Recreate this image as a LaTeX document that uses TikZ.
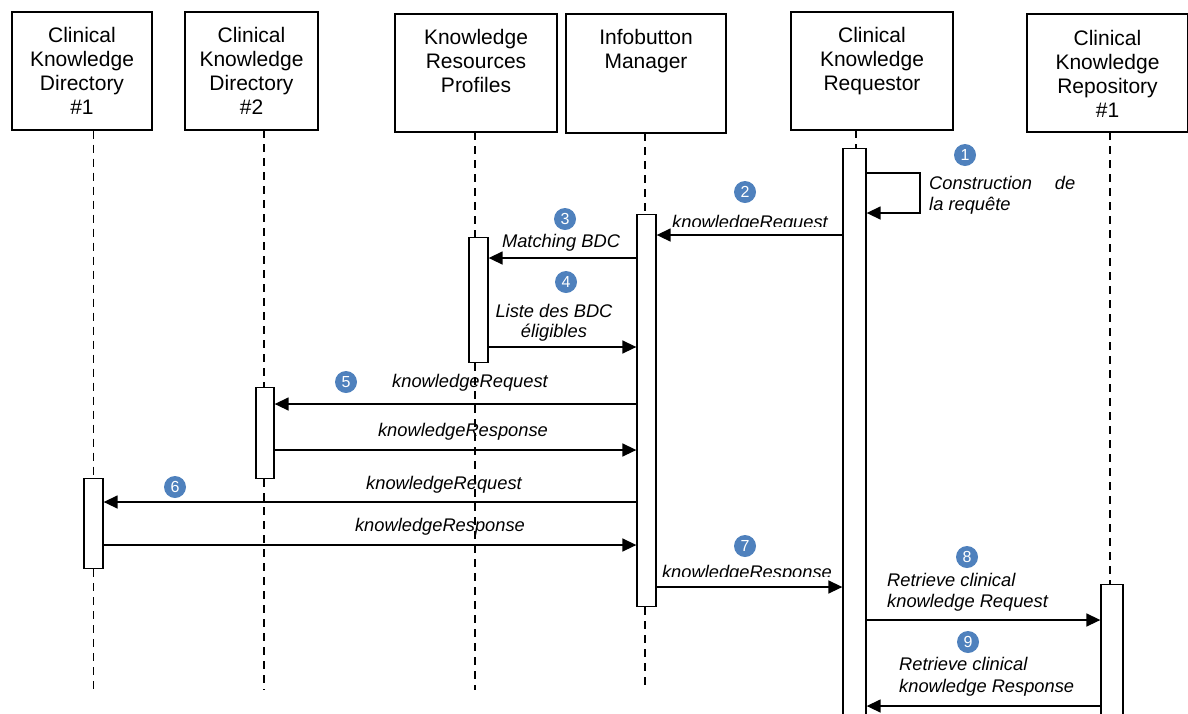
\documentclass[tikz,border=0pt]{standalone}
\usepackage{fontspec}
\setmainfont{Liberation Sans}
\usetikzlibrary{arrows.meta}
\definecolor{numblue}{HTML}{4F81BD}
\begin{document}
\begin{tikzpicture}[x=1pt,y=-1pt,
  headbox/.style={draw, line width=1.3pt, inner sep=0pt},
  headtext/.style={anchor=north, inner sep=0pt, align=center, font=\fontsize{21}{24}\selectfont},
  actbox/.style={draw, fill=white, line width=1.3pt, inner sep=0pt, anchor=north},
  life/.style={line width=1.6pt, dash pattern=on 8pt off 6pt},
  msg/.style={line width=1.5pt, -{Triangle[length=14pt,width=13pt]}},
  lbl/.style={inner sep=0pt, anchor=base, font=\fontsize{18.3}{21}\selectfont\itshape},
  lbll/.style={lbl, anchor=base west},
  num/.style={circle, fill=numblue, text=white, inner sep=0pt, minimum size=22pt, font=\fontsize{16}{16}\selectfont}
]
\useasboundingbox (0,0) rectangle (1188,713);

% header boxes
\node[headbox, minimum width=140pt, minimum height=118pt] (h1) at (82,71) {};
\node[headbox, minimum width=133pt, minimum height=118pt] (h2) at (251.5,71) {};
\node[headbox, minimum width=162pt, minimum height=118pt] (h3) at (476,73) {};
\node[headbox, minimum width=160pt, minimum height=119pt] (h4) at (646,73.5) {};
\node[headbox, minimum width=162pt, minimum height=118pt] (h5) at (872,71) {};
\node[headbox, minimum width=161pt, minimum height=118pt] (h6) at (1107.5,73) {};

\node[headtext] (t1) at ([yshift=-16pt]h1.north) {Clinical\\Knowledge\\Directory\\\#1};
\node[headtext] (t2) at ([yshift=-16pt]h2.north) {Clinical\\Knowledge\\Directory\\\#2};
\node[headtext] (t3) at ([yshift=-16pt]h3.north) {Knowledge\\Resources\\Profiles};
\node[headtext] (t4) at ([yshift=-16pt]h4.north) {Infobutton\\Manager};
\node[headtext] (t5) at ([yshift=-16pt]h5.north) {Clinical\\Knowledge\\Requestor};
\node[headtext] (t6) at ([yshift=-17pt]h6.north) {Clinical\\Knowledge\\Repository\\\#1};

% activation boxes
\node[actbox, minimum width=19pt, minimum height=90pt] (a1) at (93.5,478) {};
\node[actbox, minimum width=18pt, minimum height=91pt] (a2) at (265,387) {};
\node[actbox, minimum width=19pt, minimum height=125pt] (a3) at (478.5,237) {};
\node[actbox, minimum width=19pt, minimum height=392pt] (a4) at (646.5,214) {};
\node[actbox, minimum width=23pt, minimum height=580pt] (a5) at (854.5,148) {};
\node[actbox, minimum width=22pt, minimum height=150pt] (a6) at (1112,584) {};

% lifelines
\draw[life] (h1.south -| a1.north) -- (a1.north);
\draw[life] (a1.south) -- (a1.south |- 0,690);
\draw[life] (264,130) -- (a2.north -| 264,0);
\draw[life] (a2.south -| 264,0) -- (264,690);
\draw[life] (475,132) -- (a3.north -| 475,0);
\draw[life] (645,133) -- (a4.north -| 645,0);
\draw[life] (a4.south -| 645,0) -- (645,690);
\draw[life] (856,130) -- (a5.north -| 856,0);
\draw[life] (1110,132) -- (a6.north -| 1110,0);

% 1 self message
\draw[msg] (a5.east |- 0,173) -- (920,173) -- (920,213) -- (a5.east |- 0,213);
\node[num] (n1) at (965,155) {1};
\node[lbll] (l1a) at (929,189) {Construction\hspace{23pt}de};
\node[lbll] (l1b) at (929,210) {la requête};

% 2
\node[num] (n2) at (745,192) {2};
\begin{scope}
\clip (600,190) rectangle (840,226.5);
\node[lbl] (l2) at (750,228) {knowledgeRequest};
\end{scope}
\draw[msg] (a5.west |- 0,235) -- (a4.east |- 0,235);

% 3
\node[num] (n3) at (565,219) {3};
\node[lbl] (l3) at (561,247) {Matching BDC};
\draw[msg] (a4.west |- 0,258) -- (a3.east |- 0,258);

% 4
\node[num] (n4) at (566,282) {4};
\node[lbl] (l4a) at (554,317) {Liste des BDC};
\node[lbl] (l4b) at (554,337) {éligibles};
\draw[msg] (a3.east |- 0,347) -- (a4.west |- 0,347);

% 5
\node[num] (n5) at (346,382) {5};
\node[lbl] (l5) at (470,387) {knowledgeRequest};
\draw[msg] (a4.west |- 0,404) -- (a2.east |- 0,404);
\node[lbl] (l6) at (463,436) {knowledgeResponse};
\draw[msg] (a2.east |- 0,450) -- (a4.west |- 0,450);

% 6
\node[num] (n6) at (175,487) {6};
\node[lbl] (l7) at (444,489) {knowledgeRequest};
\draw[msg] (a4.west |- 0,502) -- (a1.east |- 0,502);
\node[lbl] (l8) at (440,531) {knowledgeResponse};
\draw[msg] (a1.east |- 0,545) -- (a4.west |- 0,545);

% KRP lifeline below its activation, drawn over the labels
\draw[life] (a3.south -| 475,0) -- (475,690);

% 7
\node[num] (n7) at (745,546) {7};
\begin{scope}
\clip (650,550) rectangle (840,576);
\node[lbl] (l9) at (747,578) {knowledgeResponse};
\end{scope}
\draw[msg] (a4.east |- 0,587) -- (a5.west |- 0,587);

% 8
\node[num] (n8) at (967,557) {8};
\node[lbll] (l10a) at (887,586) {Retrieve clinical};
\node[lbll] (l10b) at (887,607) {knowledge Request};
\draw[msg] (a5.east |- 0,620) -- (a6.west |- 0,620);

% 9
\node[num] (n9) at (968,642) {9};
\node[lbll] (l11a) at (899,670) {Retrieve clinical};
\node[lbll] (l11b) at (899,692) {knowledge Response};
\draw[msg] (a6.west |- 0,706) -- (a5.east |- 0,706);
\end{tikzpicture}
\end{document}
